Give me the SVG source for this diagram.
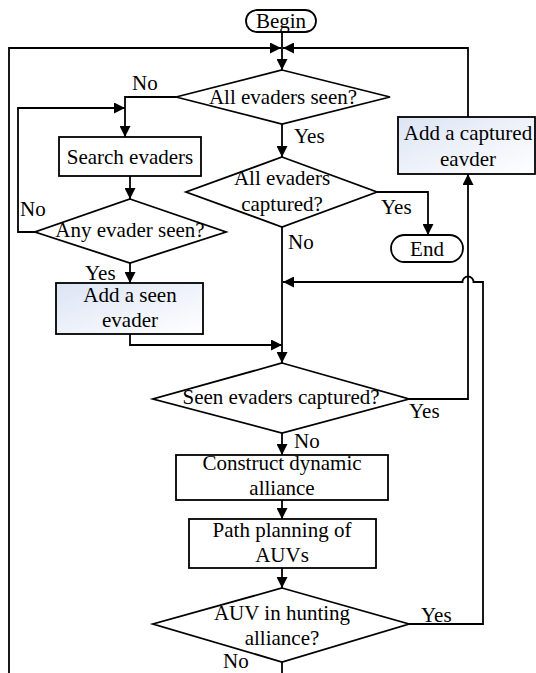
<svg xmlns="http://www.w3.org/2000/svg" width="536" height="673" viewBox="0 0 536 673" font-family="'Liberation Serif', 'DejaVu Serif', serif">
<style>
.s{fill:#fff;stroke:#000;stroke-width:1.8}
.g{fill:url(#bg);stroke:#000;stroke-width:1.8}
.c{fill:none;stroke:#000;stroke-width:1.8}
.a{marker-end:url(#ar)}
text{font-family:'Liberation Serif','DejaVu Serif',serif;font-size:21px;fill:#000}
.m{text-anchor:middle}
</style>
<defs>
<linearGradient id="bg" x1="0" y1="0" x2="1" y2="1">
<stop offset="0" stop-color="#dce4f4"/>
<stop offset="1" stop-color="#ffffff"/>
</linearGradient>
<marker id="ar" viewBox="0 0 10 10" refX="10" refY="5" markerWidth="11" markerHeight="11" markerUnits="userSpaceOnUse" orient="auto">
<path d="M0,0 L10,5 L0,10 z" fill="#000"/>
</marker>
</defs>
<rect width="536" height="673" fill="#fff"/>
<g id="connectors">
<path class="c a" d="M282,32 V70"/>
<path class="c a" d="M9,673 V48 H281"/>
<path class="c" d="M282,662 V673"/>
<path class="c a" d="M468,117 V48 H283"/>
<path class="c a" d="M176,97 H125 V137"/>
<path class="c a" d="M282,124 V157"/>
<path class="c a" d="M130,176 V199"/>
<path class="c a" d="M35,232 H18 V108 H125"/>
<path class="c a" d="M130,263 V283"/>
<path class="c a" d="M130,334 V345 H282"/>
<path class="c a" d="M377,192 H428 V235"/>
<path class="c a" d="M282,227 V363"/>
<path class="c a" d="M409,399 H468 V174"/>
<path class="c a" d="M409,624 H483 V282 H473.5 A5.5,5.5 0 0 0 462.5,282 H283"/>
<path class="c a" d="M282,433 V455"/>
<path class="c a" d="M282,500 V519"/>
<path class="c a" d="M282,568 V588"/>
</g>
<g id="begin">
<rect class="s" x="246" y="10" width="70" height="22" rx="11"/>
<text class="m" x="281" y="28">Begin</text>
</g>
<g id="d-all-seen">
<polygon class="s" points="282,70 390,97 282,124 176,97"/>
<text class="m" x="283" y="104">All evaders seen?</text>
</g>
<g id="search">
<rect class="s" x="59" y="137" width="142" height="39"/>
<text class="m" x="130" y="164">Search evaders</text>
</g>
<g id="d-any-seen">
<polygon class="s" points="130,199 226,232 130,263 35,232"/>
<text class="m" x="130" y="237">Any evader seen?</text>
</g>
<g id="add-seen">
<rect class="g" x="56" y="283" width="147" height="51"/>
<text class="m" x="130" y="302">Add a seen</text>
<text class="m" x="130" y="327">evader</text>
</g>
<g id="d-all-captured">
<polygon class="s" points="282,157 377,192 282,227 186,192"/>
<text class="m" x="282" y="185">All evaders</text>
<text class="m" x="282" y="211">captured?</text>
</g>
<g id="end">
<rect class="s" x="391" y="235" width="72" height="27" rx="13.5"/>
<text class="m" x="427" y="256">End</text>
</g>
<g id="add-captured">
<rect class="g" x="398" y="117" width="137" height="57"/>
<text class="m" x="468" y="140">Add a captured</text>
<text class="m" x="468" y="166">eavder</text>
</g>
<g id="d-seen-captured">
<polygon class="s" points="282,363 409,399 282,433 153,399"/>
<text class="m" x="281" y="404">Seen evaders captured?</text>
</g>
<g id="construct">
<rect class="s" x="176" y="455" width="212" height="45"/>
<text class="m" x="282" y="470">Construct dynamic</text>
<text class="m" x="282" y="495">alliance</text>
</g>
<g id="path-planning">
<rect class="s" x="189" y="519" width="187" height="49"/>
<text class="m" x="282" y="537">Path planning of</text>
<text class="m" x="282" y="562">AUVs</text>
</g>
<g id="d-auv">
<polygon class="s" points="282,588 409,624 282,662 153,624"/>
<text class="m" x="282" y="620">AUV in hunting</text>
<text class="m" x="282" y="645">alliance?</text>
</g>
<g id="labels">
<text x="132" y="90">No</text>
<text x="294" y="143">Yes</text>
<text x="20" y="216">No</text>
<text x="381" y="214">Yes</text>
<text x="288" y="249">No</text>
<text x="85" y="280">Yes</text>
<text x="409" y="418">Yes</text>
<text x="294" y="448">No</text>
<text x="421" y="622">Yes</text>
<text x="223" y="668">No</text>
</g>
</svg>
